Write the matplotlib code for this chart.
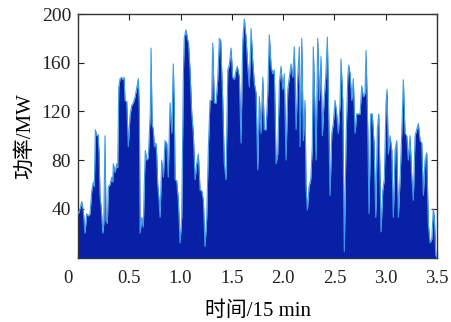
import numpy as np
import matplotlib
matplotlib.use("Agg")
import matplotlib.pyplot as plt
import matplotlib.transforms as mtransforms

plt.rcParams['font.family'] = ['Liberation Serif', 'Noto Sans CJK SC']
plt.rcParams['mathtext.fontset'] = 'stix'

time = [0.003, 0.020, 0.036, 0.052, 0.068, 0.085, 0.100, 0.117, 0.134, 0.149,
        0.159, 0.169, 0.182, 0.195, 0.205, 0.214, 0.227, 0.241, 0.251, 0.263,
        0.273, 0.286, 0.295, 0.312, 0.329, 0.338, 0.344, 0.361, 0.377, 0.387,
        0.397, 0.410, 0.426, 0.436, 0.449, 0.458, 0.475, 0.490, 0.507, 0.524,
        0.539, 0.556, 0.572, 0.588, 0.598, 0.605, 0.621, 0.637, 0.646, 0.656,
        0.670, 0.685, 0.695, 0.705, 0.712, 0.722, 0.734, 0.744, 0.758, 0.767,
        0.777, 0.790, 0.800, 0.816, 0.832, 0.848, 0.865, 0.880, 0.897, 0.914,
        0.923, 0.929, 0.939, 0.946, 0.962, 0.978, 0.995, 1.011, 1.027, 1.036,
        1.053, 1.066, 1.077, 1.092, 1.109, 1.124, 1.141, 1.157, 1.173, 1.190,
        1.206, 1.222, 1.238, 1.255, 1.270, 1.287, 1.303, 1.313, 1.329, 1.346,
        1.362, 1.378, 1.391, 1.411, 1.426, 1.443, 1.460, 1.475, 1.492, 1.508,
        1.524, 1.541, 1.553, 1.573, 1.589, 1.606, 1.621, 1.638, 1.655, 1.670,
        1.687, 1.703, 1.719, 1.736, 1.752, 1.768, 1.784, 1.801, 1.816, 1.833,
        1.850, 1.865, 1.882, 1.898, 1.914, 1.931, 1.947, 1.963, 1.979, 1.996,
        2.011, 2.028, 2.045, 2.060, 2.077, 2.093, 2.109, 2.126, 2.142, 2.158,
        2.165, 2.181, 2.197, 2.213, 2.223, 2.236, 2.252, 2.269, 2.284, 2.294,
        2.311, 2.321, 2.337, 2.353, 2.369, 2.382, 2.399, 2.415, 2.431, 2.444,
        2.457, 2.474, 2.489, 2.506, 2.522, 2.538, 2.555, 2.564, 2.581, 2.596,
        2.613, 2.630, 2.639, 2.652, 2.669, 2.684, 2.701, 2.717, 2.733, 2.750,
        2.766, 2.782, 2.798, 2.808, 2.825, 2.837, 2.854, 2.869, 2.886, 2.903,
        2.918, 2.932, 2.945, 2.954, 2.971, 2.986, 3.003, 3.013, 3.025, 3.042,
        3.059, 3.074, 3.091, 3.107, 3.123, 3.140, 3.156, 3.172, 3.188, 3.205,
        3.220, 3.237, 3.254, 3.269, 3.286, 3.302, 3.318, 3.335, 3.351, 3.367,
        3.383, 3.400, 3.415, 3.432, 3.449, 3.464, 3.474, 3.488, 3.497]

power = [36, 40, 46, 38, 20, 36, 34, 36, 55, 62,
         58, 105, 100, 101, 86, 51, 40, 20, 28, 100,
         30, 28, 58, 60, 66, 62, 77, 70, 77, 74,
         140, 147, 148, 146, 148, 129, 128, 91, 117, 125,
         127, 132, 139, 147, 120, 20, 33, 25, 60, 88,
         80, 82, 102, 120, 172, 110, 105, 91, 94, 85,
         60, 47, 33, 80, 66, 96, 94, 66, 127, 102,
         140, 159, 120, 64, 63, 47, 12, 33, 150, 181,
         187, 180, 176, 154, 118, 102, 64, 77, 85, 55,
         55, 47, 9, 33, 88, 129, 129, 176, 127, 127,
         146, 180, 178, 129, 77, 64, 154, 158, 172, 148,
         146, 154, 157, 148, 94, 178, 196, 181, 157, 140,
         188, 162, 143, 135, 72, 132, 102, 148, 105, 105,
         135, 183, 157, 151, 154, 77, 85, 143, 157, 138,
         151, 80, 138, 148, 159, 148, 173, 105, 148, 173,
         91, 180, 96, 129, 58, 39, 58, 64, 91, 173,
         118, 80, 180, 129, 165, 100, 129, 148, 181, 118,
         51, 102, 110, 129, 118, 102, 127, 163, 129, 5,
         96, 148, 158, 151, 129, 147, 102, 118, 118, 118,
         141, 132, 135, 170, 105, 36, 118, 118, 94, 33,
         105, 118, 64, 21, 55, 64, 127, 138, 85, 100,
         88, 33, 88, 96, 33, 64, 102, 146, 102, 100,
         80, 100, 66, 47, 100, 105, 110, 96, 94, 51,
         80, 86, 28, 12, 15, 40, 33, 2, 0]

xticks = [0, 0.5, 1.0, 1.5, 2.0, 2.5, 3.0, 3.5]
xticklabels = ['0', '0.5', '1.0', '1.5', '2.0', '2.5', '3.0', '3.5']
yticks = [40, 80, 120, 160, 200]

t = np.array(time)
p = np.array(power)

fig = plt.figure(figsize=(4.52, 3.22), dpi=100)
ax = fig.add_axes([0.1726, 0.2003, 0.7942, 0.7562])

ax.fill_between(t, 0, p, color='#0720a6', linewidth=0, zorder=2)
ax.plot(t, p, color='#3c9ce4', linewidth=0.8, zorder=3)

ax.set_xlim(0, 3.5)
ax.set_ylim(0, 200)
ax.set_xticks(xticks)
ax.set_xticklabels(xticklabels)
ax.set_yticks(yticks)

ax.tick_params(direction='in', top=True, right=True, length=4, width=0.8,
               colors='#222222')
ax.tick_params(axis='x', labelsize=13.5, pad=9)
ax.tick_params(axis='y', labelsize=14, pad=5)
for s in ax.spines.values():
    s.set_linewidth(1.0)
    s.set_color('#333333')

# shift "0" label left as in the reference
lbl0 = ax.get_xticklabels()[0]
lbl0.set_transform(lbl0.get_transform() + mtransforms.ScaledTranslation(-10 / 100, 0, fig.dpi_scale_trans))

ax.set_xlabel('时间/15 min', fontsize=15, labelpad=10)
ax.set_ylabel('功率/MW', fontsize=15, labelpad=5)

fig.savefig('out.png', dpi=100)
